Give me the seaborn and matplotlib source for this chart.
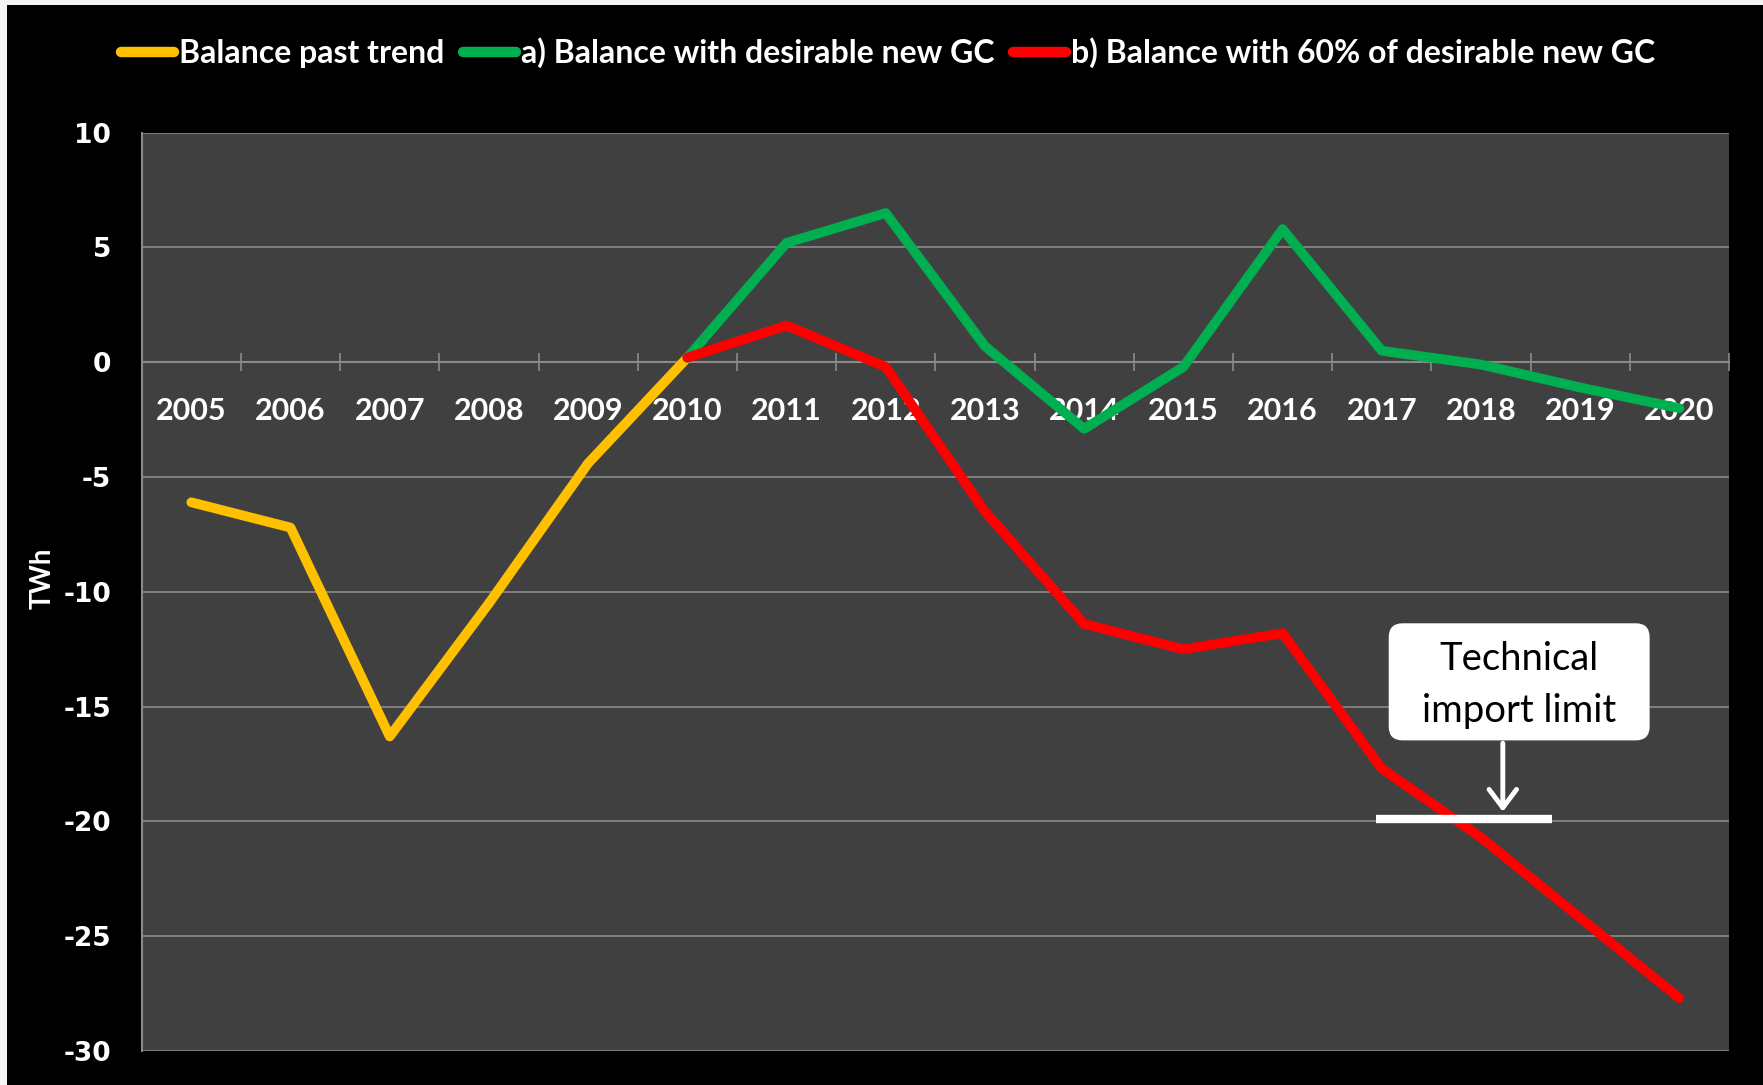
import matplotlib
matplotlib.use('Agg')
import matplotlib.pyplot as plt
import seaborn as sns
import pandas as pd
from matplotlib.lines import Line2D
from matplotlib.patches import FancyBboxPatch, Rectangle

# Data (TWh)
past_years = [2005, 2006, 2007, 2008, 2009, 2010]
past_trend = [-6.1, -7.2, -16.3, -10.5, -4.4, 0.2]

future_years = [2010, 2011, 2012, 2013, 2014, 2015, 2016, 2017, 2018, 2019, 2020]
balance_desirable = [0.2, 5.2, 6.5, 0.7, -2.9, -0.2, 5.8, 0.5, -0.1, -1.1, -2.0]
balance_60pct = [0.2, 1.6, -0.2, -6.5, -11.4, -12.5, -11.8, -17.7, -20.7, -24.2, -27.7]

series_names = ['Balance past trend',
                'a) Balance with desirable new GC',
                'b) Balance with 60% of desirable new GC']
series_colors = ['#FFC000', '#00B050', '#FF0000']
import_limit = -19.9
all_years = list(range(2005, 2021))

df = pd.concat([
    pd.DataFrame({'Year': past_years, 'TWh': past_trend, 'Series': series_names[0]}),
    pd.DataFrame({'Year': future_years, 'TWh': balance_desirable, 'Series': series_names[1]}),
    pd.DataFrame({'Year': future_years, 'TWh': balance_60pct, 'Series': series_names[2]}),
])

sns.set_style('dark')
plt.rcParams['font.family'] = ['Lato', 'DejaVu Sans']
plt.rcParams['axes.unicode_minus'] = False

W, H = 1763, 1085
fig = plt.figure(figsize=(W / 100, H / 100), dpi=100, facecolor='#f4f4f4')
fig.patches.append(Rectangle((7 / W, 0), 1, 1 - 5 / H, transform=fig.transFigure,
                             facecolor='black', edgecolor='none', zorder=-10))

ax = fig.add_axes([141.7 / W, 1 - 1051 / H, (1729 - 141.7) / W, (1051 - 132.7) / H])
ax.set_facecolor('#404040')

grid_col = '#8a8a8a'
for name, col in zip(series_names, series_colors):
    sub = df[df['Series'] == name]
    sns.lineplot(data=sub, x='Year', y='TWh', color=col, lw=7, ax=ax,
                 legend=False, sort=False, zorder=3,
                 solid_capstyle='round', solid_joinstyle='round')

ax.set_xlim(2004.5, 2020.5)
ax.set_ylim(-30, 10)
ax.set_yticks(range(-30, 11, 5))
ax.grid(False)
for v in range(-30, 11, 5):
    if v != 0:
        ax.axhline(v, color=grid_col, lw=1.2, zorder=1)

# x axis crossing at zero with tick marks between categories
ax.spines['bottom'].set_position(('data', 0))
ax.spines['bottom'].set_color(grid_col)
ax.spines['bottom'].set_linewidth(1.5)
ax.spines['bottom'].set_zorder(2)
ax.spines['left'].set_color(grid_col)
ax.spines['left'].set_linewidth(1.5)
ax.spines['top'].set_visible(False)
ax.spines['right'].set_visible(False)

ax.set_xticks([y - 0.5 for y in all_years] + [2020.5])
ax.set_xticklabels([])
ax.set_xticks(all_years, minor=True)
ax.set_xticklabels([str(y) for y in all_years], minor=True)
ax.tick_params(axis='x', which='major', direction='inout', length=13, width=1.2,
               color=grid_col, bottom=True)
ax.tick_params(axis='x', which='minor', length=0, pad=25, labelsize=22,
               labelcolor='white', bottom=True)
for lab in ax.get_xticklabels(minor=True):
    lab.set_fontweight('bold')

ax.tick_params(axis='y', length=0, pad=22, labelcolor='white', left=True)
for lab in ax.get_yticklabels():
    lab.set_family('DejaVu Sans')
    lab.set_fontweight('bold')
    lab.set_fontsize(19)

ax.set_xlabel('')
ax.set_ylabel('')
fig.text(43 / W, 1 - 578 / H, 'TWh', rotation=90, color='white', fontsize=20,
         fontweight='bold', ha='center', va='center')

# Technical import limit annotation
ax.plot([2016.94, 2018.72], [import_limit, import_limit], color='white', lw=6,
        solid_capstyle='butt', zorder=4)
box = FancyBboxPatch((2017.07, -16.47), 2.63, 5.10,
                     boxstyle='round,pad=0,rounding_size=0.14',
                     mutation_aspect=4.32, facecolor='white', edgecolor='none', zorder=5)
ax.add_patch(box)
ax.text(2018.38, -14.07, 'Technical\nimport limit', ha='center', va='center',
        fontsize=27.5, color='black', linespacing=1.55, zorder=6)
ax.annotate('', xy=(2018.22, -19.7), xytext=(2018.22, -16.47),
            arrowprops=dict(arrowstyle='->,head_length=0.6,head_width=0.45',
                            color='white', lw=3.5, mutation_scale=22), zorder=5)

handles = [Line2D([0], [0], color=c, lw=7.5, solid_capstyle='round') for c in series_colors]
leg = fig.legend(handles, series_names, loc='center', bbox_to_anchor=(888 / W, 1 - 53 / H),
                 ncol=3, frameon=False, handlelength=1.65, handletextpad=0.15,
                 columnspacing=0.6, prop={'weight': 'bold', 'size': 23})
for t in leg.get_texts():
    t.set_color('white')

fig.savefig('out.png', dpi=100, facecolor=fig.get_facecolor())
